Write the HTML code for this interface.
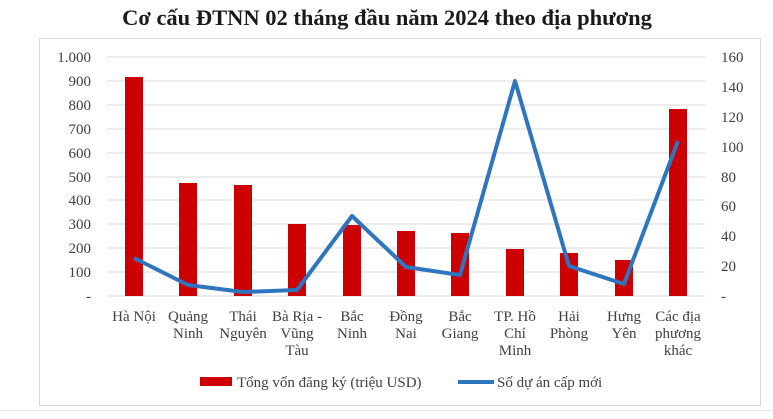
<!DOCTYPE html>
<html><head><meta charset="utf-8"><style>
body{margin:0;background:#fff;width:773px;height:414px;overflow:hidden}
svg text{font-family:"Liberation Serif",serif;fill:#404040}
</style></head><body>
<svg width="773" height="414" xmlns="http://www.w3.org/2000/svg">
<text x="387" y="25" text-anchor="middle" style="font-weight:bold;font-size:22.5px;fill:#1a1a1a">Cơ cấu ĐTNN 02 tháng đầu năm 2024 theo địa phương</text>
<rect x="39.5" y="38.5" width="721" height="367" fill="none" stroke="#d9d9d9"/>
<g stroke="#d9d9d9" stroke-width="1">
<line x1="107" x2="705" y1="57" y2="57"/><line x1="107" x2="705" y1="81" y2="81"/><line x1="107" x2="705" y1="105" y2="105"/><line x1="107" x2="705" y1="129" y2="129"/><line x1="107" x2="705" y1="153" y2="153"/><line x1="107" x2="705" y1="177" y2="177"/><line x1="107" x2="705" y1="200" y2="200"/><line x1="107" x2="705" y1="224" y2="224"/><line x1="107" x2="705" y1="248" y2="248"/><line x1="107" x2="705" y1="272" y2="272"/><line x1="107" x2="705" y1="296" y2="296"/>
</g>
<g font-size="15" text-anchor="end">
<text x="91" y="62">1.000</text><text x="91" y="86">900</text><text x="91" y="110">800</text><text x="91" y="134">700</text><text x="91" y="158">600</text><text x="91" y="182">500</text><text x="91" y="205">400</text><text x="91" y="229">300</text><text x="91" y="253">200</text><text x="91" y="277">100</text><text x="91" y="301">-</text>
</g>
<g font-size="15">
<text x="721" y="62">160</text><text x="721" y="92">140</text><text x="721" y="122">120</text><text x="721" y="152">100</text><text x="721" y="182">80</text><text x="721" y="211">60</text><text x="721" y="241">40</text><text x="721" y="271">20</text><text x="721" y="301">-</text>
</g>
<g fill="#cc0000">
<rect x="125" y="77" width="18" height="219"/>
<rect x="179" y="183" width="18" height="113"/>
<rect x="234" y="185" width="18" height="111"/>
<rect x="288" y="224" width="18" height="72"/>
<rect x="343" y="225" width="18" height="71"/>
<rect x="397" y="231" width="18" height="65"/>
<rect x="451" y="233" width="18" height="63"/>
<rect x="506" y="249" width="18" height="47"/>
<rect x="560" y="253" width="18" height="43"/>
<rect x="615" y="260" width="18" height="36"/>
<rect x="669" y="109" width="18" height="187"/>
</g>
<polyline fill="none" stroke="#2e75c0" stroke-width="4" stroke-linejoin="round" points="134,258 188,285 243,292 297,290 352,216 406,267 460,275 515,81 569,266 624,284 678,141"/>
<g font-size="15" text-anchor="middle">
<text x="134" y="321">Hà Nội</text>
<text x="188" y="321">Quảng</text><text x="188" y="338">Ninh</text>
<text x="243" y="321">Thái</text><text x="243" y="338">Nguyên</text>
<text x="297" y="321">Bà Rịa -</text><text x="297" y="338">Vũng</text><text x="297" y="355">Tàu</text>
<text x="352" y="321">Bắc</text><text x="352" y="338">Ninh</text>
<text x="406" y="321">Đồng</text><text x="406" y="338">Nai</text>
<text x="460" y="321">Bắc</text><text x="460" y="338">Giang</text>
<text x="515" y="321">TP. Hồ</text><text x="515" y="338">Chí</text><text x="515" y="355">Minh</text>
<text x="569" y="321">Hải</text><text x="569" y="338">Phòng</text>
<text x="624" y="321">Hưng</text><text x="624" y="338">Yên</text>
<text x="678" y="321">Các địa</text><text x="678" y="338">phương</text><text x="678" y="355">khác</text>
</g>
<rect x="200" y="377" width="32" height="9" fill="#cc0000"/>
<text x="237" y="387" font-size="15">Tổng vốn đăng ký (triệu USD)</text>
<line x1="458" x2="494" y1="382" y2="382" stroke="#2e75c0" stroke-width="4"/>
<text x="497" y="387" font-size="15">Số dự án cấp mới</text>
<line x1="0" x2="773" y1="410.5" y2="410.5" stroke="#e6e6e6"/>
</svg>
</body></html>
